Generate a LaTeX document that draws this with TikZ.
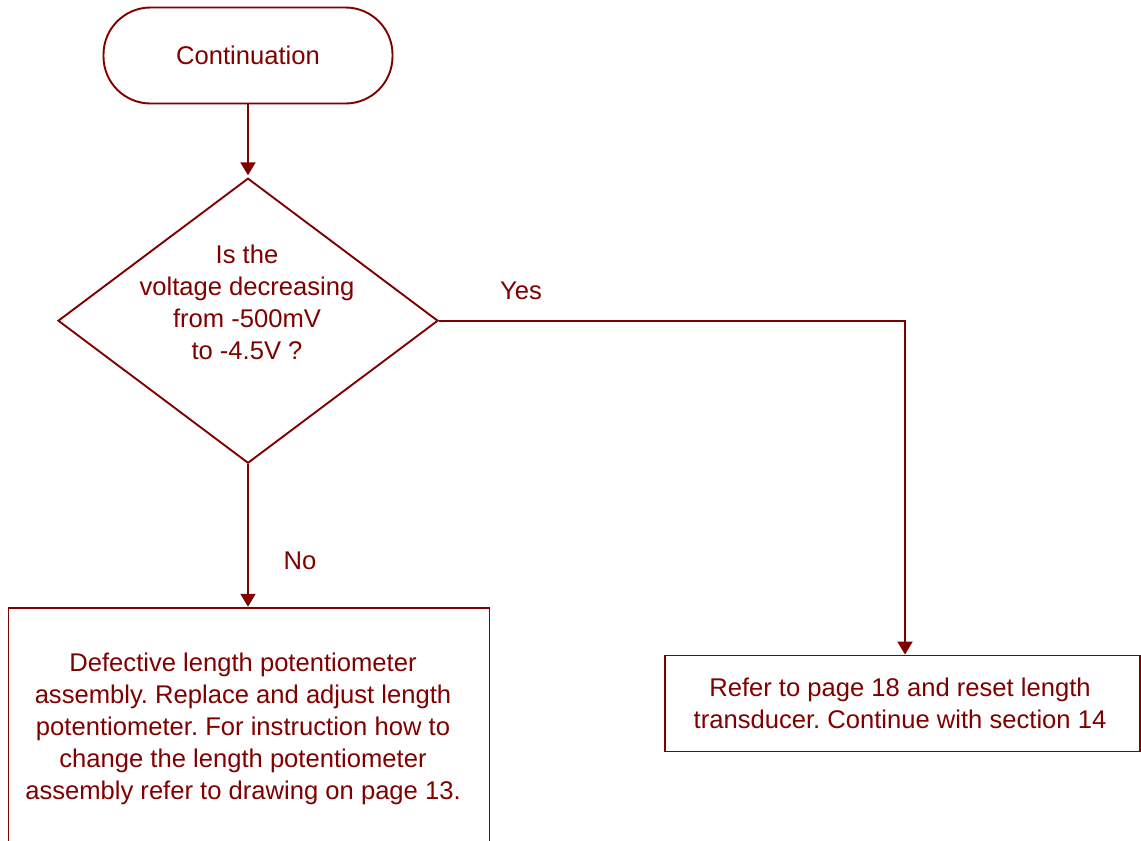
\documentclass[tikz,border=0pt]{standalone}
\usepackage{fontspec}
\setmainfont{Liberation Sans}
\usetikzlibrary{shapes.geometric,arrows.meta}
\definecolor{flowred}{RGB}{128,0,0}
\tikzset{
  x=1pt, y=-1pt,
  every node/.style={text=flowred, font=\fontsize{25.6}{32}\selectfont\frenchspacing},
  frame/.style={draw=flowred, line width=1.9pt, fill=white, inner sep=0pt},
  terminal/.style={frame, rounded corners=47pt, minimum width=289pt, minimum height=96pt},
  decision/.style={frame, diamond, minimum width=380pt, minimum height=285pt},
  action/.style={frame, rectangle},
  caption/.style={inner sep=0pt, align=center},
  flow/.style={draw=flowred, line width=2pt, -{Triangle[length=13pt,width=15pt]}},
}
\begin{document}
\begin{tikzpicture}
\useasboundingbox (0,0) rectangle (1141,841);
\clip (0,0) rectangle (1141,841);

% shapes
\node[terminal] (start) at (248,55.5) {Continuation};
\node[decision] (ask) at (248,320.7) {};
\node[caption] (asktext) at (247,302) {Is the\\voltage decreasing\\from -500mV\\to -4.5V ?};
\node[action, minimum width=481pt, minimum height=260pt] (fail) at (249,737.7) {};
\node[caption] (failtext) at (243,728.4) {Defective length potentiometer\\assembly. Replace and adjust length\\potentiometer. For instruction how to\\change the length potentiometer\\assembly refer to drawing on page 13.};
\node[action, minimum width=475pt, minimum height=96pt] (ok) at (902.5,703.5) {};
\node[caption] (oktext) at (900,703.6) {Refer to page 18 and reset length\\transducer. Continue with section 14};

% branch labels
\node[inner sep=0pt, anchor=base] (yes) at (521,299) {Yes};
\node[inner sep=0pt, anchor=base] (no) at (300,569) {No};

% connectors
\draw[flow, shorten >=2pt] (start.south) -- (ask.north);
\draw[flow] (ask.south) -- (ask.south |- fail.north);
\coordinate (okin) at ([xshift=2.5pt]ok.north);
\draw[flow] (ask.east) -| (okin);
\end{tikzpicture}
\end{document}
